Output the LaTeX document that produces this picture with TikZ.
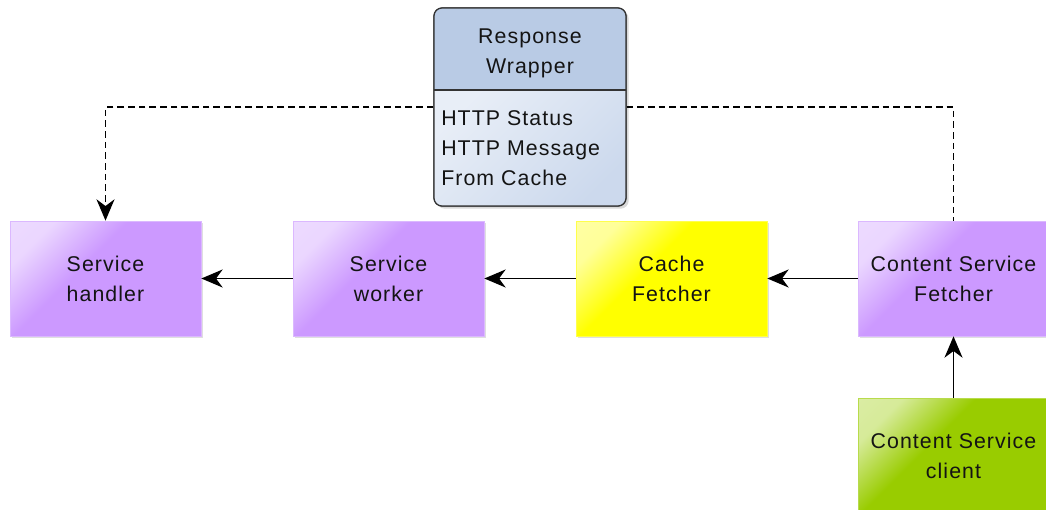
\documentclass[tikz,border=0pt]{standalone}
\usepackage{fontspec}
\setmainfont{Liberation Sans}[LetterSpace=5]
\usetikzlibrary{arrows.meta,shadows}
\definecolor{svcpurple}{RGB}{204,153,255}
\definecolor{cacheyellow}{RGB}{255,255,0}
\definecolor{clientgreen}{RGB}{153,204,0}
\definecolor{wraphead}{RGB}{185,203,229}
\definecolor{wrapbody}{RGB}{204,217,237}
\definecolor{inktext}{RGB}{20,20,20}
\colorlet{glossbase}{svcpurple}
\pgfdeclarehorizontalshading[glossbase]{gloss}{100bp}{color(0bp)=(glossbase!30!white); color(25bp)=(glossbase!40!white); color(42bp)=(glossbase); color(100bp)=(glossbase)}
\tikzset{
	comp/.style={
		minimum width=143.25pt, minimum height=86.25pt,
		align=center, text=inktext,
		font=\fontsize{16}{22.5}\selectfont,
		/utils/exec={\colorlet{glossbase}{#1}},
		shade, shading=gloss, shading angle=-45,
		draw=#1!70!white, line width=0.5pt,
		drop shadow={shadow xshift=1.5pt, shadow yshift=-1.5pt, opacity=0.25}},
	wrapbox/.style={
		minimum width=144pt, minimum height=148.5pt,
		draw=black!80, line width=0.9pt, rounded corners=6pt,
		drop shadow={shadow xshift=2pt, shadow yshift=-2pt, opacity=0.3}},
	tip/.style={-{Stealth[length=16pt,width=13.5pt,inset=5pt]}},
	flow/.style={tip, line width=1.4pt},
	ret/.style={dash pattern=on 5pt off 3pt, line width=1.1pt}
}
\begin{document}
\begin{tikzpicture}[x=0.75pt,y=0.75pt,yscale=-1,xscale=1]
\useasboundingbox (0,0) rectangle (1046,510);

% response wrapper with header and fields
\node[wrapbox, fill=wrapbody] (wrap) at (530,107) {};
\begin{scope}
\clip[rounded corners=6pt] (434,8) rectangle (626,206);
\shade[left color=white!55!wrapbody, middle color=wrapbody, right color=wrapbody, shading angle=45] (434,90) rectangle (626,206);
\fill[wraphead] (434,8) rectangle (626,90);
\end{scope}
\draw[black!80, line width=0.9pt, rounded corners=6pt] (434,8) rectangle (626,206);
\draw[black!80, line width=0.9pt] (434,90) -- (626,90);
\node[align=center, text=inktext, font=\fontsize{16}{22.5}\selectfont] (wraptitle) at (530,53) {Response\\Wrapper};
\node[align=left, text=inktext, font=\fontsize{16}{22.5}\selectfont, anchor=west, inner sep=0pt] (wrapfields) at (441,148) {HTTP Status\\HTTP Message\\From Cache};

% components
\node[comp=svcpurple] (handler) at (105.5,278.5) {Service\\handler};
\node[comp=svcpurple] (worker) at (388.5,278.5) {Service\\worker};
\node[comp=cacheyellow] (cache) at (671.5,278.5) {Cache\\Fetcher};
\node[comp=svcpurple] (fetcher) at (953.5,278.5) {Content Service\\Fetcher};
\node[comp=clientgreen] (client) at (953.5,455.5) {Content Service\\client};

% calls
\draw[flow] (worker) -- (handler);
\draw[flow] (cache) -- (worker);
\draw[flow] (fetcher) -- (cache);
\draw[flow] (client) -- (fetcher);

% response path
\draw[ret, tip] (wrap.west) -| (handler.north);
\draw[ret] (wrap.east) -| (fetcher.north);

\end{tikzpicture}
\end{document}
